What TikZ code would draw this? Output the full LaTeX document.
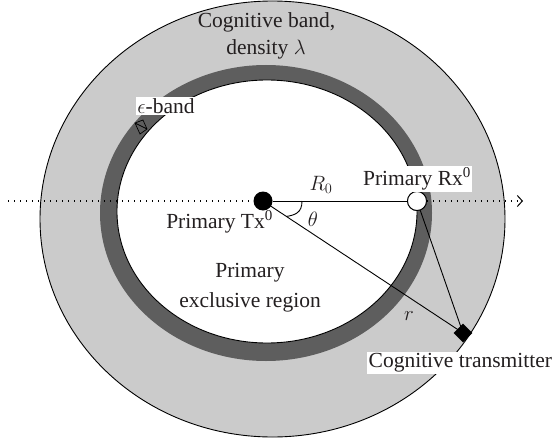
\documentclass[tikz,border=0pt]{standalone}
\usepackage{fontspec}
\setmainfont{Liberation Serif}
\usetikzlibrary{calc,arrows.meta,shapes.geometric}
\definecolor{bandlight}{HTML}{CBCBCB}
\definecolor{banddark}{HTML}{5E5E5E}
\definecolor{txtc}{HTML}{231F20}
\begin{document}
\begin{tikzpicture}[x=1pt,y=-1pt,
  lbl/.style={font=\fontsize{21.5}{25}\selectfont, text=txtc, inner sep=1pt},
  wlbl/.style={lbl, fill=white, inner sep=1.5pt},
  outline/.style={draw=black, line width=0.9pt},
  conn/.style={draw=black, line width=0.9pt},
  dotline/.style={draw=black, line width=1.2pt, dash pattern=on 1.3pt off 4.7pt}]
\useasboundingbox (0,0) rectangle (554,444);
% bands
\fill[bandlight] (272.5,219) ellipse [x radius=232.5pt, y radius=218pt];
\draw[outline] (272.5,219) ellipse [x radius=232.5pt, y radius=218pt];
\fill[banddark] (266,213) ellipse [x radius=166pt, y radius=148pt];
\fill[white] (267,211.5) ellipse [x radius=150pt, y radius=131.5pt];
\draw[outline] (267,211.5) ellipse [x radius=150pt, y radius=131.5pt];
% coordinates
\coordinate (dl) at (8,201);
\coordinate (dr) at (523,201);
\node[circle, fill=black, minimum size=19pt, inner sep=0pt] (tx) at (263,201) {};
\node[circle, fill=white, draw=black, line width=0.9pt, minimum size=19pt, inner sep=0pt] (rx) at (417,201) {};
\node[diamond, fill=black, minimum size=19pt, inner sep=0pt] (ct) at (463,333) {};
% dotted axis
\draw[dotline] (dl) -- (tx);
\draw[dotline, -{Straight Barb[length=5pt,width=11pt,line width=1pt]}] (rx) -- (dr);
% connectors
\draw[conn] (tx) -- (rx);
\draw[conn] (tx.center) -- (ct.center);
\draw[conn] (rx) -- (ct.center);
\node[circle, fill=white, draw=black, line width=0.9pt, minimum size=19pt, inner sep=0pt] at (rx) {};
% angle
\coordinate (a1) at (302,201);
\coordinate (a2) at ($(tx)!0.117!(ct)$);
\draw[conn] (a1) .. controls (302,213) and (295,215) .. (a2);
% epsilon band marker
\draw[black, line width=0.7pt] (135,123) -- (143,120) -- (147,129) -- (140,134) -- cycle (135,123) -- (147,129);
% labels
\node[lbl] (cb1) at (266.5,22) {Cognitive band,};
\node[lbl] (cb2) at (266,49) {density $\lambda$};
\node[wlbl] (eb) at (166,106) {$\epsilon$-band};
\node[lbl] (r0) at (321,185) {$R_0$};
\node[wlbl] (rxl) at (417,179) {Primary Rx\textsuperscript{0}};
\node[lbl, anchor=east] (txl) at (274,222) {Primary Tx\textsuperscript{0}};
\node[lbl] (th) at (313,219) {$\theta$};
\node[lbl] (pe1) at (250,273) {Primary};
\node[lbl] (pe2) at (250,302) {exclusive region};
\node[lbl] (rl) at (409,316) {$r$};
\node[wlbl, anchor=west] (ctl) at (367,363) {Cognitive transmitter};
\end{tikzpicture}
\end{document}
